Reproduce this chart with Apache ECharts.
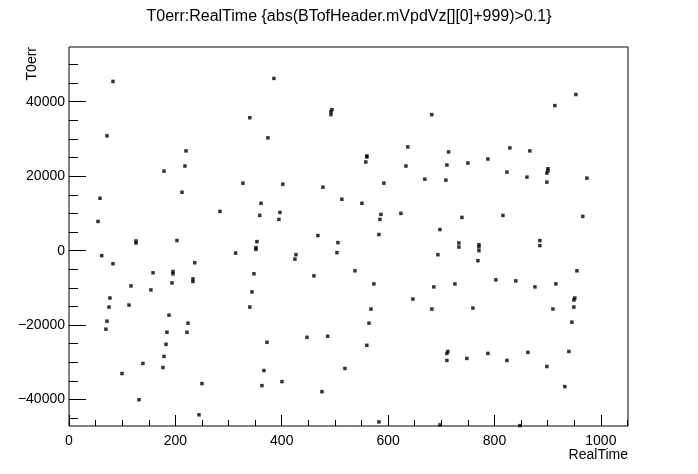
<!DOCTYPE html>
<html>
<head>
<meta charset="utf-8">
<script src="https://cdn.jsdelivr.net/npm/echarts@6/dist/echarts.min.js"></script>
<style>html,body{margin:0;padding:0;background:#fff;}#c{width:698px;height:474px;}</style>
</head>
<body>
<div id="c"></div>
<script>
// RealTime values (x)
const realTime = [
  82.7, 340, 71.4, 220, 218, 178.6, 327, 58.3, 212.4, 283.8,
  358.6, 361, 54.5, 126, 126, 203, 353.4, 351.5, 351.5, 385.3,
  494.4, 492.5, 492.5, 374, 682, 637, 713.7, 560, 560, 558,
  633.5, 710.5, 669, 708.6, 402, 477.4, 592, 513, 550.7, 396.6,
  394.7, 586.5, 584.6, 624, 697.4, 468, 582.7, 505.6, 953, 913.5,
  829, 866.5, 750, 787.6, 823.3, 861, 900.4, 900.4, 898.5, 898.5,
  973.7, 738.7, 815.8, 966, 733, 733, 770.7, 770.7, 770.7, 885.3,
  885.3, 61.5, 82.7, 313.3, 236.3, 158, 195.5, 195.5, 347.7, 116.5,
  154, 193.6, 233, 233, 344, 77, 75.2, 112.8, 340, 71.4,
  69.5, 188, 223.7, 184.2, 221.8, 182.3, 178.6, 139, 176.7, 99.6,
  250, 131.6, 244.4, 503.8, 426.7, 424.8, 693.6, 460.5, 537.6, 573.3,
  686, 646.6, 567.7, 682.3, 564, 372.2, 447.4, 486.3, 560, 710.5,
  712.4, 710.5, 366.5, 518.8, 362.8, 400.4, 475.6, 582.7, 697.4, 768.8,
  955, 725.6, 802.6, 840, 876, 915.4, 759.4, 909.8, 951, 949.2,
  949.2, 945.5, 748, 787.6, 823.3, 862.8, 939.8, 898.5, 932.3, 847.7
];
// T0err values (y)
const t0err = [
  45450, 35700, 30840, 26790, 22730, 21370, 18130, 14070, 15690, 10550,
  9470, 12720, 7850, 2600, 2060, 2700, 2430, 800, 350, 46270,
  37880, 37340, 36530, 30300, 36530, 27870, 26520, 25430, 25160, 23810,
  22730, 23000, 19210, 18940, 17860, 17050, 18130, 13800, 12720, 10280,
  8390, 9740, 8390, 10010, 5680, 4060, 4330, 2160, 41940, 38960,
  27600, 26790, 23540, 24620, 21100, 19750, 22000, 21460, 20830, 18400,
  19480, 8930, 9470, 9200, 2060, 970, 1620, 1000, 0, 2700,
  1350, -1350, -3520, -650, -3250, -5950, -5600, -6220, -6220, -9470,
  -10550, -8660, -7580, -8300, -11090, -12720, -15150, -14610, -15150, -18940,
  -21100, -17320, -19480, -21920, -21920, -25160, -28410, -30300, -31390, -33010,
  -35710, -40040, -44100, -540, -1080, -2270, -1080, -6760, -5410, -8930,
  -9740, -12990, -15690, -15690, -19480, -24620, -23270, -23000, -25430, -27600,
  -27060, -29490, -32200, -31660, -36260, -35170, -37880, -46000, -46800, -2700,
  -5410, -8930, -7850, -8120, -9740, -8930, -15420, -15690, -12720, -13260,
  -15150, -19210, -28950, -27600, -29490, -27330, -27060, -31110, -36530, -47000
];
// Tick labels
const xMajorTicks = [0, 200, 400, 600, 800, 1000];
const xMinorTicks = [50, 100, 150, 250, 300, 350, 450, 500, 550, 650, 700, 750, 850, 900, 950, 1050];
const yMajorTicks = [-40000, -20000, 0, 20000, 40000];
const yMinorTicks = [-45000, -35000, -30000, -25000, -15000, -10000, -5000, 5000, 10000, 15000, 25000, 30000, 35000, 45000, 50000];

const X_MIN = 0, X_MAX = 1051, Y_MIN = -47100, Y_MAX = 54700;
const FONT = '"Liberation Sans", Arial, Helvetica, sans-serif';

const points = realTime.map((x, i) => [x, t0err[i]]);

const chart = echarts.init(document.getElementById('c'), null, {renderer: 'canvas'});
const baseX = {
  type: 'value', min: X_MIN, max: X_MAX, position: 'bottom',
  axisLine: {show: false, onZero: false}, splitLine: {show: false}
};
const baseY = {
  type: 'value', min: Y_MIN, max: Y_MAX, position: 'left',
  axisLine: {show: false, onZero: false}, splitLine: {show: false}
};
chart.setOption({
  animation: false,
  backgroundColor: '#ffffff',
  title: {
    text: 'T0err:RealTime {abs(BTofHeader.mVpdVz[][0]+999)>0.1}',
    left: 'center', top: 4,
    textStyle: {fontFamily: FONT, fontSize: 16, fontWeight: 'normal', color: '#000'}
  },
  graphic: [{
    type: 'text', x: 32, y: 47, rotation: Math.PI / 2,
    style: {text: 'T0err', fontFamily: FONT, fontSize: 14, fill: '#000', textAlign: 'right', textVerticalAlign: 'middle'}
  }],
  grid: {
    left: 69, top: 47, width: 559, height: 379,
    show: true, borderColor: '#000', borderWidth: 1, backgroundColor: 'transparent'
  },
  xAxis: [
    Object.assign({}, baseX, {
      name: 'RealTime', nameLocation: 'end', nameGap: 0,
      nameTextStyle: {fontFamily: FONT, fontSize: 14, color: '#000', align: 'right', verticalAlign: 'top', padding: [22, 0, 0, 0]},
      axisTick: {show: true, inside: true, length: 11, customValues: xMajorTicks, lineStyle: {color: '#000'}},
      axisLabel: {show: true, margin: 8, customValues: xMajorTicks, fontFamily: FONT, fontSize: 14, color: '#000',
        formatter: v => String(v)}
    }),
    Object.assign({}, baseX, {
      axisTick: {show: true, inside: true, length: 6, customValues: xMinorTicks, lineStyle: {color: '#000'}},
      axisLabel: {show: false}
    })
  ],
  yAxis: [
    Object.assign({}, baseY, {
      axisTick: {show: true, inside: true, length: 17, customValues: yMajorTicks, lineStyle: {color: '#000'}},
      axisLabel: {show: true, margin: 4, customValues: yMajorTicks, fontFamily: FONT, fontSize: 14, color: '#000',
        formatter: v => String(v).replace('-', '\u2212')}
    }),
    Object.assign({}, baseY, {
      offset: 0,
      axisTick: {show: true, inside: true, length: 9, customValues: yMinorTicks, lineStyle: {color: '#000'}},
      axisLabel: {show: false}
    })
  ],
  series: [{
    type: 'scatter', xAxisIndex: 0, yAxisIndex: 0,
    symbol: 'rect', symbolSize: 3.5,
    itemStyle: {color: '#000'},
    data: points
  }]
});
</script>
</body>
</html>
